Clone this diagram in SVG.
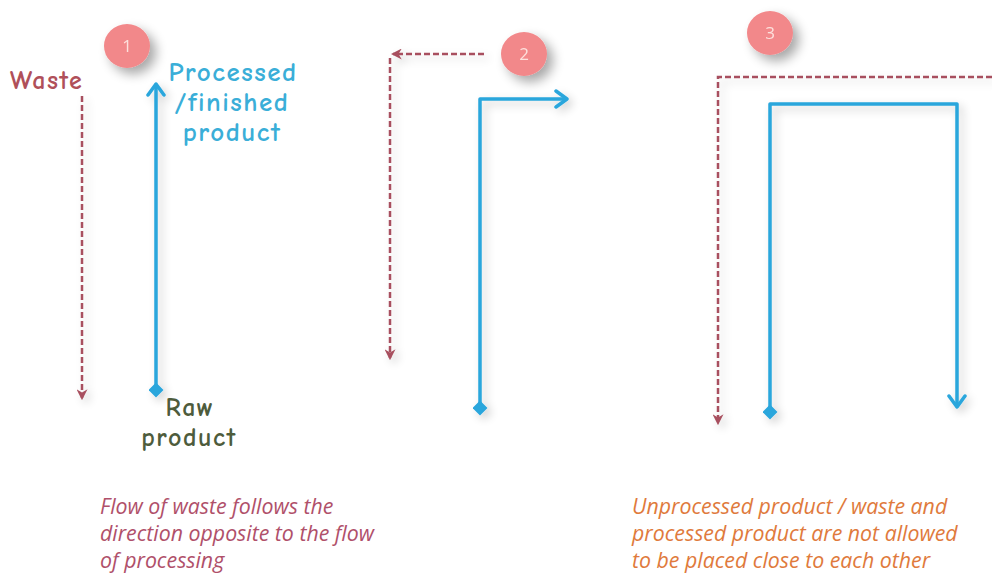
<svg xmlns="http://www.w3.org/2000/svg" width="992" height="573" viewBox="0 0 992 573">
<style>
.waste{fill:none;stroke:#a8505e;stroke-width:2.5;stroke-dasharray:6 3}
.flow{fill:none;stroke:#2aa6dc;stroke-width:3.5;stroke-linejoin:round}
.hand{font-family:"Comic Neue","Lato","Open Sans",sans-serif;font-weight:bold;letter-spacing:1.5px}
.cap{font-family:"Open Sans","Lato",sans-serif;font-style:italic;font-size:21.3px}
.num{font-family:"Open Sans",sans-serif;font-size:17px;fill:#fde0dc;text-anchor:middle}
.badge{fill:#f2888a}
</style>
<defs>
<marker id="bh" viewBox="-14 -10 18 20" refX="0" refY="0" markerWidth="18" markerHeight="20" orient="auto" markerUnits="userSpaceOnUse">
<path d="M-11,-8 L0,0 L-11,8" fill="none" stroke="#2aa6dc" stroke-width="3.5" stroke-linejoin="round" stroke-linecap="round"/>
</marker>
<marker id="wh" viewBox="0 0 10 10" refX="8" refY="5" markerWidth="11" markerHeight="11" orient="auto" markerUnits="userSpaceOnUse">
<path d="M0,0 L10,5 L0,10 L3,5 Z" fill="#a8505e"/>
</marker>
<marker id="dm" viewBox="0 0 12 12" refX="6" refY="6" markerWidth="15" markerHeight="15" orient="auto" markerUnits="userSpaceOnUse">
<path d="M6,0 L12,6 L6,12 L0,6 Z" fill="#2aa6dc"/>
</marker>
<filter id="sh" x="-50%" y="-50%" width="200%" height="200%">
<feGaussianBlur in="SourceAlpha" stdDeviation="6"/>
<feOffset dx="6" dy="6" result="b"/>
<feComponentTransfer><feFuncA type="linear" slope="0.35"/></feComponentTransfer>
<feMerge><feMergeNode/><feMergeNode in="SourceGraphic"/></feMerge>
</filter>
<filter id="ls" x="-50%" y="-10%" width="200%" height="120%">
<feGaussianBlur in="SourceAlpha" stdDeviation="5"/>
<feOffset dx="4" dy="4"/>
<feComponentTransfer><feFuncA type="linear" slope="0.2"/></feComponentTransfer>
<feMerge><feMergeNode/><feMergeNode in="SourceGraphic"/></feMerge>
</filter>
</defs>
<rect width="992" height="573" fill="#ffffff"/>

<g id="connectors" filter="url(#ls)">
<path class="waste" d="M82,96 L82,398" marker-end="url(#wh)"/>
<path class="flow" d="M156,390 L156,84" marker-start="url(#dm)" marker-end="url(#bh)"/>
<path class="waste" d="M484,54 L393,54" marker-end="url(#wh)"/>
<path class="waste" d="M390,58 L390,358" marker-end="url(#wh)"/>
<path class="flow" d="M480,408 L480,99 L567,99" marker-start="url(#dm)" marker-end="url(#bh)"/>
<path class="waste" d="M992,77 L718,77 L718,423" marker-end="url(#wh)"/>
<path class="flow" d="M770,412 L770,104 L957,104 L957,407" marker-start="url(#dm)" marker-end="url(#bh)"/>
</g>

<g id="badge1" filter="url(#sh)"><ellipse class="badge" cx="127" cy="46" rx="23" ry="22"/><text class="num" x="127" y="52">1</text></g>
<g id="badge2" filter="url(#sh)"><ellipse class="badge" cx="524" cy="54" rx="23" ry="22"/><text class="num" x="524" y="60">2</text></g>
<g id="badge3" filter="url(#sh)"><ellipse class="badge" cx="770" cy="33" rx="23" ry="22"/><text class="num" x="770" y="39">3</text></g>

<g id="label-waste"><text class="hand" x="10" y="89" font-size="26" fill="#b0505a">Waste</text></g>
<g id="label-processed" class="hand" font-size="27" fill="#3aaed8" text-anchor="middle">
<text x="233" y="81">Processed</text>
<text x="232" y="111">/finished</text>
<text x="232" y="141">product</text>
</g>
<g id="label-raw" class="hand" font-size="26" fill="#4e5c3c" text-anchor="middle">
<text x="190" y="416">Raw</text>
<text x="189" y="446">product</text>
</g>

<g id="caption1" class="cap" fill="#b0506a">
<text x="100" y="514">Flow of waste follows the</text>
<text x="100" y="541">direction opposite to the flow</text>
<text x="100" y="568">of processing</text>
</g>
<g id="caption3" class="cap" fill="#e07a3c">
<text x="632" y="514">Unprocessed product / waste and</text>
<text x="632" y="541">processed product are not allowed</text>
<text x="632" y="568">to be placed close to each other</text>
</g>
</svg>
